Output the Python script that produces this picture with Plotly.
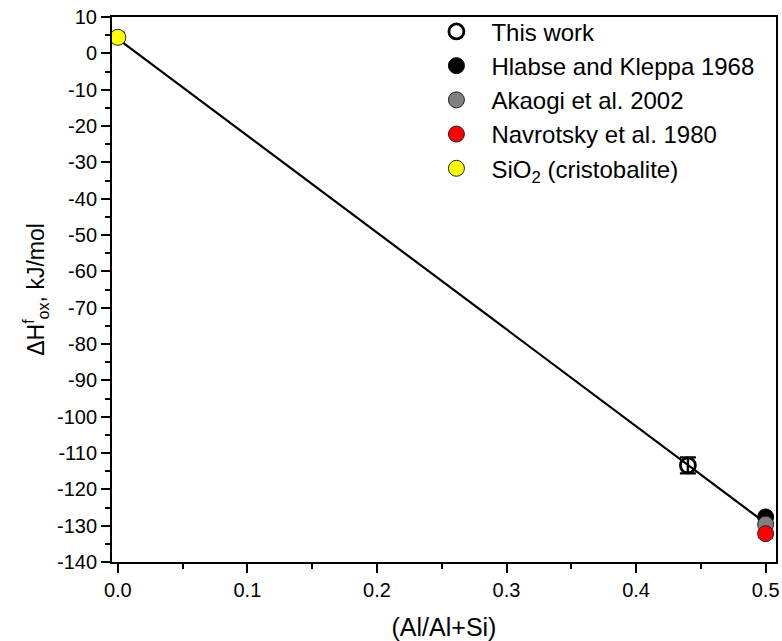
import plotly.graph_objects as go

# Data
fit_x = [0.0, 0.5]
fit_y = [4.0, -129.3]

this_x = [0.44]
this_y = [-113.4]
this_err = [2.2]

hlabse_x = [0.5]
hlabse_y = [-127.6]

akaogi_x = [0.5]
akaogi_y = [-129.6]

navrotsky_x = [0.5]
navrotsky_y = [-132.2]
navrotsky_err = [1.2]

sio2_x = [0.0]
sio2_y = [4.4]
sio2_err = [1.4]

x_ticks = [0, 0.1, 0.2, 0.3, 0.4, 0.5]
x_ticklabels = ["0.0", "0.1", "0.2", "0.3", "0.4", "0.5"]
y_ticks = list(range(-140, 11, 10))
y_ticklabels = [str(v) for v in y_ticks]

FONT = "Arial, Liberation Sans, sans-serif"

fig = go.Figure()

fig.add_trace(go.Scatter(x=fit_x, y=fit_y, mode="lines",
                         line=dict(color="black", width=2.2), showlegend=False))

fig.add_trace(go.Scatter(x=this_x, y=this_y, mode="markers", name="This work",
                         marker=dict(symbol="circle-open", size=15, color="black",
                                     line=dict(width=2.8, color="black")),
                         error_y=dict(type="data", array=this_err, visible=True,
                                      color="black", thickness=2.4, width=8)))

fig.add_trace(go.Scatter(x=hlabse_x, y=hlabse_y, mode="markers", name="Hlabse and Kleppa 1968",
                         marker=dict(symbol="circle", size=16, color="black",
                                     line=dict(width=1, color="black"))))

fig.add_trace(go.Scatter(x=akaogi_x, y=akaogi_y, mode="markers", name="Akaogi et al. 2002",
                         marker=dict(symbol="circle", size=16, color="#808080",
                                     line=dict(width=1, color="#222222"))))

fig.add_trace(go.Scatter(x=navrotsky_x, y=navrotsky_y, mode="markers", name="Navrotsky et al. 1980",
                         marker=dict(symbol="circle", size=16, color="#ff0000",
                                     line=dict(width=1, color="#222222")),
                         error_y=dict(type="data", array=navrotsky_err, visible=True,
                                      color="#990000", thickness=2, width=7)))

fig.add_trace(go.Scatter(x=sio2_x, y=sio2_y, mode="markers", name="SiO<sub>2</sub> (cristobalite)",
                         marker=dict(symbol="circle", size=16, color="#ffff00",
                                     line=dict(width=1, color="#222222")),
                         error_y=dict(type="data", array=sio2_err, visible=True,
                                      color="#222222", thickness=1.5, width=7)))

axis_common = dict(showline=True, linecolor="black", linewidth=2, mirror=True,
                   ticks="outside", ticklen=9, tickwidth=2, tickcolor="black",
                   showgrid=False, zeroline=False,
                   tickfont=dict(family=FONT, size=20, color="black"))

fig.update_xaxes(range=[-0.0045, 0.508], tickmode="array",
                 tickvals=x_ticks, ticktext=x_ticklabels,
                 minor=dict(ticks="outside", ticklen=5, tickwidth=2, tickcolor="black",
                            tickvals=[0.05, 0.15, 0.25, 0.35, 0.45]),
                 title=dict(text="(Al/Al+Si)", font=dict(family=FONT, size=25, color="black"),
                            standoff=18),
                 **axis_common)

fig.update_yaxes(range=[-140, 10], tickmode="array",
                 tickvals=y_ticks, ticktext=y_ticklabels,
                 minor=dict(ticks="outside", ticklen=5, tickwidth=2, tickcolor="black",
                            tickvals=list(range(-135, 10, 10))),
                 title=dict(text="ΔH<sup>f</sup><sub>ox</sub>, kJ/mol",
                            font=dict(family=FONT, size=23, color="black"), standoff=6),
                 **axis_common)

fig.update_layout(
    width=782, height=641,
    margin=dict(l=112, r=2, t=17, b=79),
    plot_bgcolor="white", paper_bgcolor="white",
    font=dict(family=FONT, color="black"),
    legend=dict(x=0.466, y=1.014, xanchor="left", yanchor="top",
                font=dict(family=FONT, size=24, color="black"),
                bgcolor="rgba(0,0,0,0)", borderwidth=0, itemwidth=60,
                tracegroupgap=0),
)

fig.write_html("out.html", config={"displayModeBar": False},
               post_script="document.body.style.margin='0px';document.body.style.overflow='hidden';")
